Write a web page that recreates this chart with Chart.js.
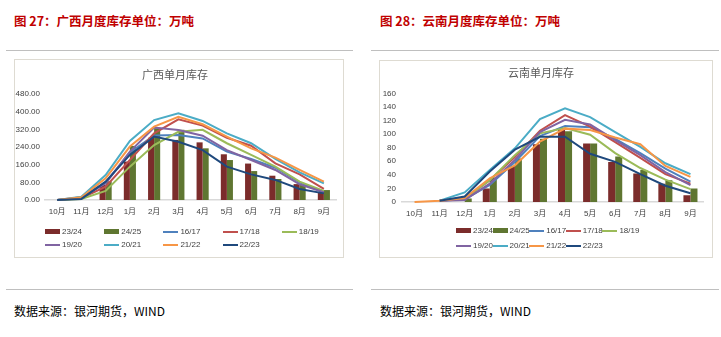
<!DOCTYPE html>
<html><head><meta charset="utf-8">
<script src="https://cdn.jsdelivr.net/npm/chart.js@4.4.1/dist/chart.umd.min.js"></script>
<style>
html,body{margin:0;padding:0;background:#fff;width:721px;height:337px;overflow:hidden;}
body{position:relative;font-family:'Noto Sans CJK SC','Liberation Sans',sans-serif;}
.abs{position:absolute;}
.ptitle{color:#c00000;font-weight:bold;font-size:12.5px;line-height:1;white-space:nowrap;}
.rule{height:1px;background:#bfbfbf;}
.box{border:1px solid #dedbd2;box-sizing:border-box;}
.src{font-size:12px;color:#000;white-space:nowrap;line-height:1;}
.leg{font-size:8px;color:#404040;white-space:nowrap;line-height:10px;height:10px;font-family:'Liberation Sans',sans-serif;}
.sw{display:inline-block;vertical-align:middle;width:15px;margin-right:2px;}
</style></head><body>
<div class="abs ptitle" style="left:14px;top:15px;">图 27：广西月度库存单位：万吨</div>
<div class="abs ptitle" style="left:380px;top:15px;">图 28：云南月度库存单位：万吨</div>
<div class="abs rule" style="left:6px;top:50px;width:347px;"></div>
<div class="abs rule" style="left:371px;top:50px;width:348px;"></div>
<div class="abs box" style="left:14px;top:59px;width:330px;height:199px;"></div>
<div class="abs box" style="left:379px;top:60px;width:334px;height:198px;"></div>
<canvas id="cGX" class="abs" style="left:14px;top:59px;" width="329" height="198"></canvas>
<canvas id="cYN" class="abs" style="left:379px;top:60px;" width="333" height="197"></canvas>
<div id="legGX"></div>
<div id="legYN"></div>
<div class="abs rule" style="left:6px;top:289px;width:347px;"></div>
<div class="abs rule" style="left:371px;top:289px;width:348px;"></div>
<div class="abs src" style="left:14px;top:305px;">数据来源：银河期货，WIND</div>
<div class="abs src" style="left:380px;top:305px;">数据来源：银河期货，WIND</div>
<script>
// ---- data ----
const MONTHS = ['10月','11月','12月','1月','2月','3月','4月','5月','6月','7月','8月','9月'];
const SERIES = ['23/24','24/25','16/17','17/18','18/19','19/20','20/21','21/22','22/23'];

// 广西 (万吨)
const GX_2324 = [0,0,68,174,282,272,261,207,165,110,72,35];
const GX_2425 = [0,0,85,245,325,318,234,181,131,95,68,45];
const GX_1617 = [0,8,80,215,292,294,279,219,186,146,80,35];
const GX_1718 = [0,8,60,181,302,365,337,282,246,166,116,50];
const GX_1819 = [0,5,41,151,249,309,318,257,204,151,83,41];
const GX_1920 = [0,12,75,219,328,317,291,226,181,136,71,35];
const GX_2021 = [0,15,113,267,362,393,358,302,257,186,125,75];
const GX_2122 = [0,12,98,242,332,377,343,287,234,192,136,83];
const GX_2223 = [0,5,83,204,287,264,226,151,116,91,50,30];
const GX_YTICKS = ['0.00','80.00','160.00','240.00','320.00','400.00','480.00'];

// 云南 (万吨)
const YN_2324 = [0,0,0,20,53,85,106,86,59,42,27,10];
const YN_2425 = [0,0,5,36,64,93,104,86,67,47,32,20];
const YN_1617 = [null,2,4,25,59,97,112,110,93,72,49,30];
const YN_1718 = [null,2,5,32,66,105,128,111,88,65,41,27];
const YN_1819 = [null,2,5,32,69,101,109,99,72,50,33,19];
const YN_1920 = [null,2,3,27,62,103,121,114,91,69,44,25];
const YN_2021 = [null,2,14,47,79,122,138,125,103,81,57,41];
const YN_2122 = [0,2,6,35,54,89,108,106,95,85,53,37];
const YN_2223 = [null,2,8,45,77,96,96,71,59,41,24,13];
const YN_YTICKS = ['0','20','40','60','80','100','120','140','160'];

// ---- styles ----
const COLORS = ['#7b2c2b','#5f7631','#4f81bd','#c0504d','#9bbb59','#8064a2','#4bacc6','#f79646','#1f497d'];
const TICK_FONT = {family:"'Liberation Sans Narrow','Liberation Sans','Noto Sans CJK SC',sans-serif", size:8};

function buildDatasets(values) {
  return values.map((v, i) => {
    if (i < 2) {
      return {type:'bar', label:SERIES[i], data:v, backgroundColor:COLORS[i], borderWidth:0, order:20 + i};
    }
    return {type:'line', label:SERIES[i], data:v, borderColor:COLORS[i], backgroundColor:COLORS[i],
      borderWidth:2, pointRadius:0, tension:0, fill:false, clip:6, order:10 - i, spanGaps:false};
  });
}

function makeChart(id, values, title, yLabels, yMax, step, g) {
  return new Chart(document.getElementById(id), {
    data:{labels:MONTHS, datasets:buildDatasets(values)},
    options:{
      responsive:false, animation:false, devicePixelRatio:1,
      datasets:{bar:{categoryPercentage:g.cat, barPercentage:1}},
      layout:{padding:{left:0,right:g.padR,top:0,bottom:0}},
      plugins:{
        legend:{display:false}, tooltip:{enabled:false},
        title:{display:true, text:title, color:'#595959',
          font:{family:"'Noto Sans CJK SC',sans-serif", size:11, weight:'normal', lineHeight:1.2},
          padding:{top:g.tTop, bottom:g.tBot}}
      },
      scales:{
        x:{grid:{display:false, drawTicks:false}, border:{display:true, color:'#d9d9d9', width:1.5},
           ticks:{font:TICK_FONT, color:'#404040', padding:7, maxRotation:0, autoSkip:false},
           afterFit(s){ s.height = g.xH; }},
        y:{min:0, max:yMax, grid:{display:false, drawTicks:false}, border:{display:false},
           ticks:{stepSize:step, font:TICK_FONT, color:'#404040', padding:g.yPad,
             callback:(v, i) => yLabels[i]},
           afterFit(s){ s.width = g.yW; }}
      }
    }
  });
}

makeChart('cGX', [GX_2324,GX_2425,GX_1617,GX_1718,GX_1819,GX_1920,GX_2021,GX_2122,GX_2223],
  '广西单月库存', GX_YTICKS, 480, 80,
  {cat:0.5, padR:7, tTop:9.4, tBot:12.4, xH:57, yW:31, yPad:5});
makeChart('cYN', [YN_2324,YN_2425,YN_1617,YN_1718,YN_1819,YN_1920,YN_2021,YN_2122,YN_2223],
  '云南单月库存', YN_YTICKS, 160, 20,
  {cat:0.56, padR:9, tTop:6.7, tBot:13.4, xH:55, yW:23, yPad:6});

// ---- HTML legends (from SERIES / COLORS) ----
function legend(containerId, x0, colW, rowYs, perRow) {
  const c = document.getElementById(containerId);
  SERIES.forEach((name, i) => {
    const row = Math.floor(i / perRow), col = i % perRow;
    const d = document.createElement('div');
    d.className = 'abs leg';
    d.style.left = (x0 + col * colW) + 'px';
    d.style.top = (rowYs[row] - 5) + 'px';
    const sw = document.createElement('span');
    sw.className = 'sw';
    sw.style.height = i < 2 ? '5px' : '2px';
    sw.style.background = COLORS[i];
    d.appendChild(sw);
    d.appendChild(document.createTextNode(name));
    c.appendChild(d);
  });
}
legend('legGX', 45, 59.2, [232, 245], 5);
legend('legYN', 456, 36.6, [231, 246], 5);
</script>
</body></html>
